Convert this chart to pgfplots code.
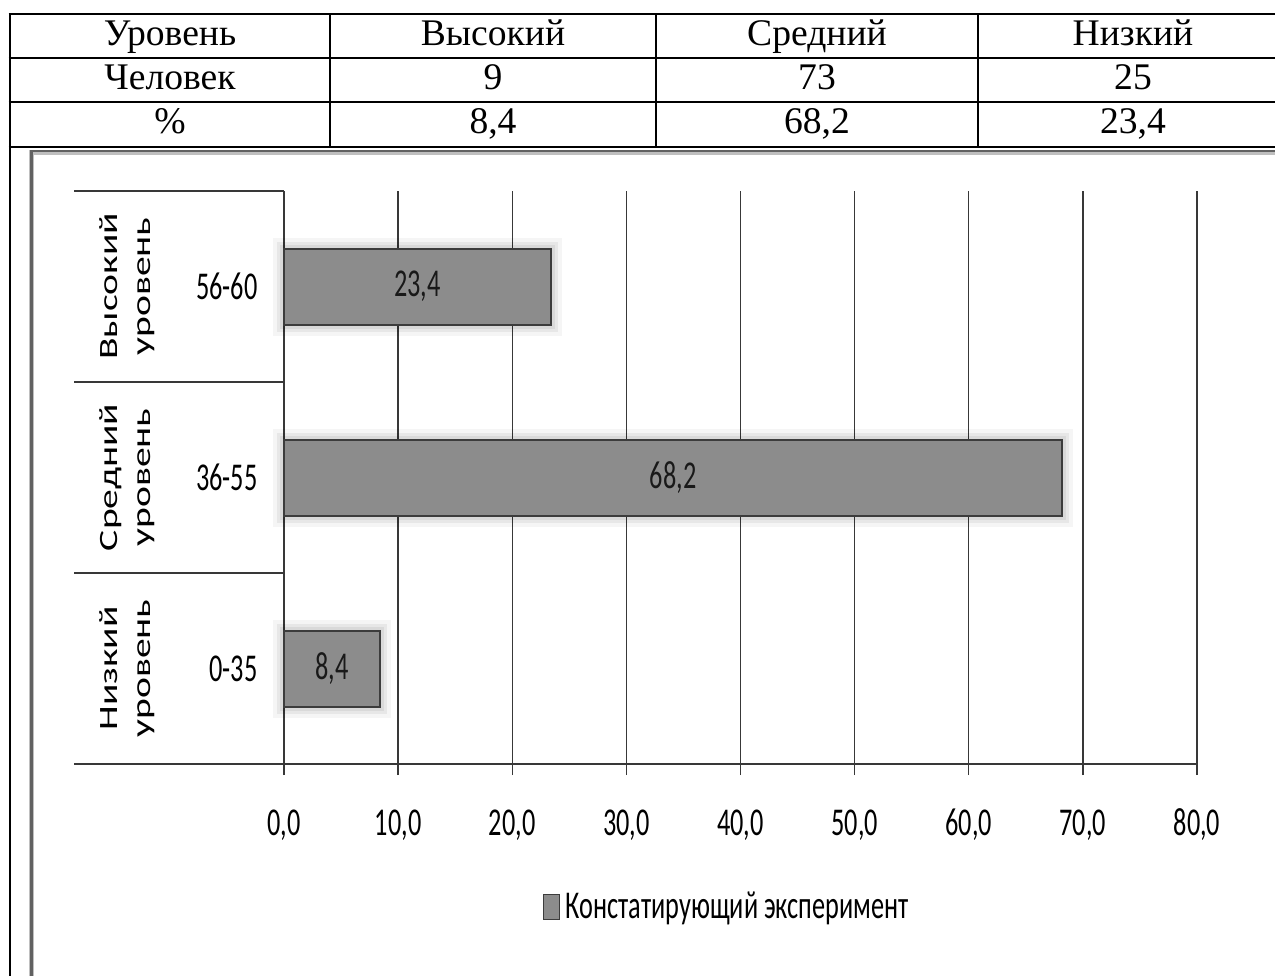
\documentclass[border=0pt]{standalone}
\usepackage{fontspec}
\setmainfont{Liberation Serif}
\newfontfamily\chartfontfam[FakeStretch=0.667]{Carlito}
\newfontfamily\rotfontfam[FakeStretch=1.5]{Carlito}
\newcommand\cf{\chartfontfam\fontsize{19.7pt}{23pt}\selectfont}
\newcommand\rf{\rotfontfam\fontsize{13.2pt}{16.5pt}\selectfont}
\newcommand\tf{\fontsize{18.8pt}{21pt}\selectfont}
\usepackage{pgfplots}
\usepackage{pgfplotstable}
\pgfplotsset{compat=1.18}
\definecolor{barfill}{HTML}{8C8C8C}
\definecolor{bardraw}{HTML}{3C3C3C}
\definecolor{gridc}{HTML}{383838}
\makeatletter
\newcommand\clearpreactions{\let\tikz@preactions\pgfutil@empty}
\makeatother

\pgfplotstableread{
y val half lab
0 8.4 4.2 8,4
1 68.2 34.1 68,2
2 23.4 11.7 23,4
}\data

\begin{document}
\begin{tikzpicture}
\begin{scope}[x=0.5pt,y=-0.5pt]
\path[use as bounding box] (0,0) rectangle (1275,976);
% table
\begin{scope}[line width=1pt]
\foreach \yy in {14,58,102,147} \draw (8.5,\yy) -- (1275,\yy);
\draw (9.5,13.5) -- (9.5,976);
\foreach \xx in {330,656,978} \draw (\xx,14) -- (\xx,147);
\end{scope}
\node[anchor=base,font=\tf,inner sep=0pt] at (170,45) {Уровень};
\node[anchor=base,font=\tf,inner sep=0pt] at (493,45) {Высокий};
\node[anchor=base,font=\tf,inner sep=0pt] at (817,45) {Средний};
\node[anchor=base,font=\tf,inner sep=0pt] at (1133,45) {Низкий};
\node[anchor=base,font=\tf,inner sep=0pt] at (170,89) {Человек};
\node[anchor=base,font=\tf,inner sep=0pt] at (493,89) {9};
\node[anchor=base,font=\tf,inner sep=0pt] at (817,89) {73};
\node[anchor=base,font=\tf,inner sep=0pt] at (1133,89) {25};
\node[anchor=base,font=\tf,inner sep=0pt] at (170,133) {\%};
\node[anchor=base,font=\tf,inner sep=0pt] at (493,133) {8,4};
\node[anchor=base,font=\tf,inner sep=0pt] at (817,133) {68,2};
\node[anchor=base,font=\tf,inner sep=0pt] at (1133,133) {23,4};
% chart frame
\draw[black!25, line width=2.5pt] (31.5,976) -- (31.5,152) -- (1275,152);
\draw[black!62, line width=1.2pt] (31.5,976) -- (31.5,151) -- (1275,151);
\end{scope}
\begin{axis}[
  at={(142pt,-382pt)}, anchor=south west,
  scale only axis, width=456.5pt, height=286.5pt,
  xmin=0, xmax=80, ymin=-0.5, ymax=2.5,
  enlargelimits=false, clip=false,
  axis line style={draw=none},
  xtick={0,10,...,80},
  ytick={0,1,2},
  xtick pos=lower, ytick pos=left,
  yticklabels={0-35,36-55,56-60},
  xmajorgrids, grid style={gridc, line width=0.65pt},
  tick align=outside, major tick length=5.5pt,
  x tick style={gridc, line width=0.65pt},
  y tick style={draw=none},
  xticklabel style={font=\cf, inner sep=0pt, anchor=north, text height=12.6pt, text depth=3pt, yshift=-17.5pt},
  yticklabel style={font=\cf, inner sep=0pt, anchor=east, xshift=-7.5pt},
  /pgf/number format/.cd, use comma, fixed, fixed zerofill, precision=1, assume math mode=true, /pgfplots/.cd,
  bar width=38pt,
  legend style={at={(axis description cs:0.4855,-0.2496)}, anchor=center, draw=none, fill=none, font=\cf, inner sep=0pt, nodes={inner sep=1.5pt}, /tikz/every odd column/.append style={column sep=1.5pt}},
]
\addplot[xbar, fill=barfill, draw=bardraw, line width=1pt,
  preaction={draw=black, draw opacity=0.04, line width=11pt},
  preaction={draw=black, draw opacity=0.06, line width=7pt},
  preaction={draw=black, draw opacity=0.06, line width=4pt},
  legend image code/.code={\clearpreactions\draw[/utils/exec=\clearpreactions, fill=barfill, draw=bardraw, line width=0.5pt] (0pt,-6.25pt) rectangle (8pt,6.25pt);}
] table[x=val, y=y] {\data};
\addlegendentry{Констатирующий эксперимент}
\addplot[draw=none, mark=none, forget plot, nodes near coords, point meta=explicit symbolic,
  nodes near coords style={anchor=center, font=\cf, text=black!90}] table[x=half, y=y, meta=lab] {\data};
\draw[gridc, line width=0.65pt] (axis cs:-18.4,-0.5) -- (axis cs:80,-0.5);
\draw[gridc, line width=0.65pt] (axis cs:-18.4,0.5) -- (axis cs:0,0.5);
\draw[gridc, line width=0.65pt] (axis cs:-18.4,1.5) -- (axis cs:0,1.5);
\draw[gridc, line width=0.65pt] (axis cs:-18.4,2.5) -- (axis cs:0,2.5);
\node[rotate=90, align=center, font=\rf] at (axis cs:-13.76,2) {Высокий\\уровень};
\node[rotate=90, align=center, font=\rf] at (axis cs:-13.76,1) {Средний\\уровень};
\node[rotate=90, align=center, font=\rf] at (axis cs:-13.76,0) {Низкий\\уровень};
\end{axis}
\end{tikzpicture}
\end{document}
